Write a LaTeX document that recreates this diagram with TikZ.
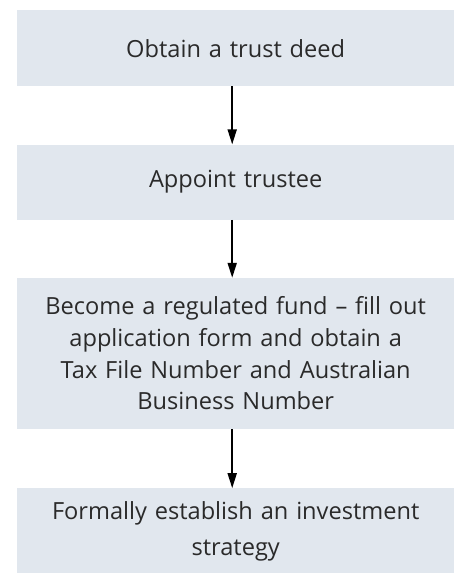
\documentclass[tikz,border=0pt]{standalone}
\usepackage{fontspec}
\setmainfont{Open Sans}
\usepackage{tikz}
\usetikzlibrary{positioning, arrows.meta}

\definecolor{boxfill}{HTML}{E1E7EE}
\definecolor{boxtext}{HTML}{2A2A2A}

\begin{document}
\begin{tikzpicture}[
    x=1pt, y=1pt,
    >={Stealth[length=15pt, width=9pt, inset=0pt]},
    stepbox/.style={
        fill=boxfill,
        draw=none,
        minimum width=437pt,
        minimum height=76pt,
        text width=430pt,
        align=center,
        text=boxtext,
        font=\fontsize{23.6}{31.7}\selectfont,
        inner sep=0pt,
    },
    flow/.style={
        ->,
        line width=1.8pt,
    },
]

\useasboundingbox (0,0) rectangle (454,-573);

% --- Steps, top to bottom ---
\node[stepbox, anchor=north west] (deed) at (17,-10) {Obtain a trust deed};

\node[stepbox, minimum height=75pt, below=58pt of deed] (trustee) {Appoint trustee};

\node[stepbox, minimum height=151pt, below=58pt of trustee] (fund) {%
    Become a regulated fund -- fill out\\
    application form and obtain a\\
    Tax File Number and Australian\\
    Business Number%
};

\node[stepbox, minimum height=85pt, below=59pt of fund,
    font=\fontsize{23.6}{36}\selectfont] (strategy) {%
    Formally establish an investment\\
    strategy%
};

% --- Arrows between steps ---
\draw[flow] ([xshift=-3.5pt]deed.south) -- ([xshift=-3.5pt]trustee.north);
\draw[flow] ([xshift=-3.5pt]trustee.south) -- ([xshift=-3.5pt]fund.north);
\draw[flow] ([xshift=-3.5pt]fund.south) -- ([xshift=-3.5pt]strategy.north);

\end{tikzpicture}
\end{document}
